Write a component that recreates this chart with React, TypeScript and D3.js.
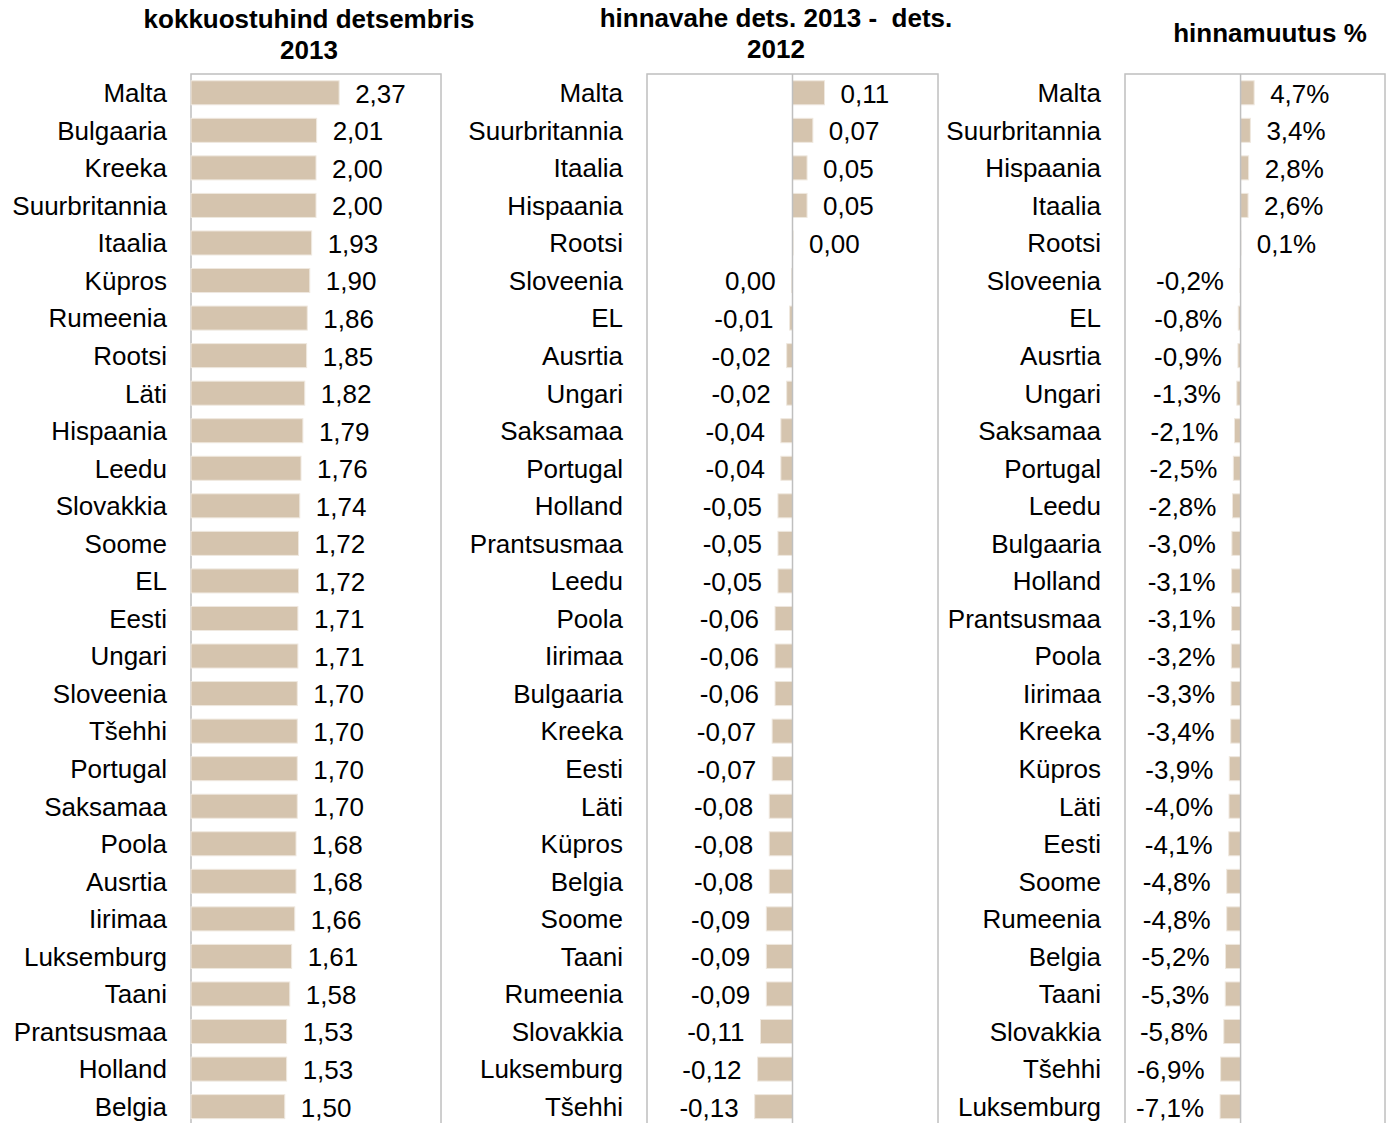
import * as d3 from 'd3';

// --- data ---
const priceCountries = ['Malta', 'Bulgaaria', 'Kreeka', 'Suurbritannia', 'Itaalia', 'Küpros', 'Rumeenia', 'Rootsi', 'Läti', 'Hispaania', 'Leedu', 'Slovakkia', 'Soome', 'EL', 'Eesti', 'Ungari', 'Sloveenia', 'Tšehhi', 'Portugal', 'Saksamaa', 'Poola', 'Ausrtia', 'Iirimaa', 'Luksemburg', 'Taani', 'Prantsusmaa', 'Holland', 'Belgia'];
const priceValues = [2.37, 2.01, 2.0, 2.0, 1.93, 1.9, 1.86, 1.85, 1.82, 1.79, 1.76, 1.74, 1.72, 1.72, 1.71, 1.71, 1.7, 1.7, 1.7, 1.7, 1.68, 1.68, 1.66, 1.61, 1.58, 1.53, 1.53, 1.5];

const diffCountries = ['Malta', 'Suurbritannia', 'Itaalia', 'Hispaania', 'Rootsi', 'Sloveenia', 'EL', 'Ausrtia', 'Ungari', 'Saksamaa', 'Portugal', 'Holland', 'Prantsusmaa', 'Leedu', 'Poola', 'Iirimaa', 'Bulgaaria', 'Kreeka', 'Eesti', 'Läti', 'Küpros', 'Belgia', 'Soome', 'Taani', 'Rumeenia', 'Slovakkia', 'Luksemburg', 'Tšehhi'];
const diffValues = [0.11, 0.07, 0.05, 0.05, 0.002, -0.003, -0.01, -0.02, -0.02, -0.04, -0.04, -0.05, -0.05, -0.05, -0.06, -0.06, -0.06, -0.07, -0.07, -0.08, -0.08, -0.08, -0.09, -0.09, -0.09, -0.11, -0.12, -0.13];

// percent values
const changeCountries = ['Malta', 'Suurbritannia', 'Hispaania', 'Itaalia', 'Rootsi', 'Sloveenia', 'EL', 'Ausrtia', 'Ungari', 'Saksamaa', 'Portugal', 'Leedu', 'Bulgaaria', 'Holland', 'Prantsusmaa', 'Poola', 'Iirimaa', 'Kreeka', 'Küpros', 'Läti', 'Eesti', 'Soome', 'Rumeenia', 'Belgia', 'Taani', 'Slovakkia', 'Tšehhi', 'Luksemburg'];
const changeValues = [4.7, 3.4, 2.8, 2.6, 0.1, -0.2, -0.8, -0.9, -1.3, -2.1, -2.5, -2.8, -3.0, -3.1, -3.1, -3.2, -3.3, -3.4, -3.9, -4.0, -4.1, -4.8, -4.8, -5.2, -5.3, -5.8, -6.9, -7.1];

const titles = [
  ['kokkuostuhind detsembris', '2013'],
  ['hinnavahe dets. 2013 -  dets.', '2012'],
  ['hinnamuutus %'],
];

const W = 1392;
const H = 1123;
const FONT = '"Liberation Sans", Arial, sans-serif';
const BAR = '#d5c4ae';
const GRID = '#bfbfbf';
const TOP = 74;
const STEP = 37.55;

function fmt(v: number, digits: number, suffix = '') {
  let s = v.toFixed(digits);
  if (Number(s) === 0) s = Math.abs(v).toFixed(digits);
  return s.replace('.', ',') + suffix;
}

interface PanelProps {
  countries: string[];
  values: number[];
  x0: number;
  x1: number;
  domain: [number, number];
  digits: number;
  suffix?: string;
  title: string[];
  titleX: number;
  titleY: number;
  zeroLine: boolean;
}

function Panel({ countries, values, x0, x1, domain, digits, suffix = '', title, titleX, titleY, zeroLine }: PanelProps) {
  const x = d3.scaleLinear().domain(domain).range([x0, x1]);
  const y = d3.scaleBand<string>()
    .domain(countries)
    .range([TOP, TOP + STEP * countries.length])
    .paddingInner(0.36)
    .paddingOuter(0.18);
  const bw = y.bandwidth();
  const gap = 16;

  return (
    <g>
      <text x={titleX} y={titleY} textAnchor="middle" fontWeight="bold" fontSize={26} fontFamily={FONT} fill="#000"
        style={{ whiteSpace: 'pre' }}>
        {title.map((t, i) => (
          <tspan key={i} x={titleX} dy={i === 0 ? 0 : 31}>{t}</tspan>
        ))}
      </text>
      <rect x={x0} y={TOP} width={x1 - x0} height={H + 20 - TOP} fill="none" stroke={GRID} strokeWidth={1.5} />
      {countries.map((c, i) => {
        const v = values[i];
        const a = x(Math.min(0, v));
        const b = x(Math.max(0, v));
        const cy = (y(c) ?? 0) + bw / 2;
        const neg = v < 0;
        return (
          <g key={c}>
            <rect x={a} y={y(c)} width={b - a} height={bw} fill={BAR} stroke="#efe8df" strokeWidth={1} />
            <text x={x0 - 24} y={cy} dy="0.36em" textAnchor="end" fontSize={26} fontFamily={FONT} fill="#000">{c}</text>
            <text x={neg ? a - gap : b + gap} y={cy} dy="0.38em" textAnchor={neg ? 'end' : 'start'} fontSize={26} fontFamily={FONT} fill="#000">
              {fmt(v, digits, suffix)}
            </text>
          </g>
        );
      })}
      {zeroLine && <line x1={x(0)} x2={x(0)} y1={TOP} y2={H + 20} stroke={GRID} strokeWidth={1.5} />}
    </g>
  );
}

export default function App() {
  return (
    <div style={{ position: 'absolute', left: 0, top: 0 }}>
      <svg width={W} height={H} style={{ display: 'block', background: '#fff' }}>
        <Panel countries={priceCountries} values={priceValues} x0={191} x1={441} domain={[0, 4]} digits={2}
          title={titles[0]} titleX={309} titleY={28} zeroLine={false} />
        <Panel countries={diffCountries} values={diffValues} x0={647} x1={938} domain={[-0.5, 0.5]} digits={2}
          title={titles[1]} titleX={776} titleY={27} zeroLine={true} />
        <Panel countries={changeCountries} values={changeValues} x0={1125} x1={1385} domain={[-40, 50]} digits={1} suffix="%"
          title={titles[2]} titleX={1270} titleY={42} zeroLine={true} />
      </svg>
    </div>
  );
}
